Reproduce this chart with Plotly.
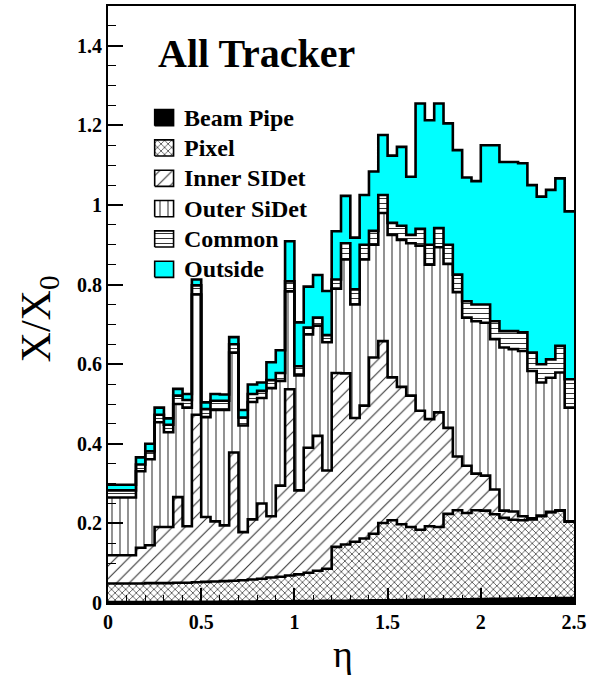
import plotly.graph_objects as go

# ---------------- data (cumulative X/X0 per eta bin) -------------
eta_edges = [0.0, 0.05, 0.1, 0.15, 0.2, 0.25, 0.3, 0.35, 0.4, 0.45,
             0.5, 0.55, 0.6, 0.65, 0.7, 0.75, 0.8, 0.85, 0.9, 0.95,
             1.0, 1.05, 1.1, 1.15, 1.2, 1.25, 1.3, 1.35, 1.4, 1.45,
             1.5, 1.55, 1.6, 1.65, 1.7, 1.75, 1.8, 1.85, 1.9, 1.95,
             2.0, 2.05, 2.1, 2.15, 2.2, 2.25, 2.3, 2.35, 2.4, 2.45, 2.5]

beam_pipe = [0.0025, 0.0025, 0.0025, 0.0026, 0.0026, 0.0027, 0.0028, 0.0029, 0.003, 0.003,
             0.0031, 0.0032, 0.0034, 0.0035, 0.0036, 0.0038, 0.004, 0.0041, 0.0043, 0.0045,
             0.0047, 0.0049, 0.0051, 0.0053, 0.0055, 0.0057, 0.006, 0.0062, 0.0065, 0.0068,
             0.007, 0.0073, 0.0076, 0.0079, 0.0082, 0.0085, 0.0088, 0.0091, 0.0094, 0.0097,
             0.01, 0.0103, 0.0106, 0.0109, 0.0112, 0.0115, 0.0118, 0.0121, 0.0124, 0.0127]

pixel = [0.049, 0.049, 0.049, 0.049, 0.05, 0.05, 0.05, 0.051, 0.051, 0.052,
         0.053, 0.054, 0.055, 0.056, 0.057, 0.059, 0.061, 0.064, 0.066, 0.069,
         0.072, 0.076, 0.081, 0.086, 0.141, 0.147, 0.154, 0.162, 0.174, 0.201,
         0.208, 0.198, 0.191, 0.184, 0.193, 0.191, 0.224, 0.233, 0.226, 0.233,
         0.232, 0.223, 0.214, 0.209, 0.208, 0.21, 0.218, 0.228, 0.232, 0.204]

inner_sidet = [0.12, 0.12, 0.12, 0.139, 0.145, 0.191, 0.191, 0.266, 0.193, 0.473,
               0.216, 0.205, 0.195, 0.378, 0.178, 0.21, 0.25, 0.218, 0.295, 0.537,
               0.283, 0.39, 0.42, 0.333, 0.578, 0.577, 0.465, 0.496, 0.617, 0.658,
               0.567, 0.543, 0.521, 0.483, 0.462, 0.479, 0.44, 0.368, 0.345, 0.325,
               0.32, 0.285, 0.232, 0.23, 0.218, 0.213, 0.22, 0.229, 0.233, 0.205]

outer_sidet = [0.265, 0.265, 0.265, 0.331, 0.361, 0.454, 0.429, 0.5, 0.491, 0.775,
               0.467, 0.485, 0.485, 0.629, 0.446, 0.505, 0.515, 0.54, 0.558, 0.783,
               0.572, 0.675, 0.697, 0.655, 0.79, 0.863, 0.75, 0.863, 0.9, 0.98,
               0.925, 0.912, 0.904, 0.898, 0.85, 0.894, 0.852, 0.781, 0.717, 0.708,
               0.704, 0.663, 0.642, 0.638, 0.633, 0.583, 0.554, 0.566, 0.579, 0.491]

common = [0.283, 0.283, 0.283, 0.348, 0.381, 0.473, 0.448, 0.521, 0.51, 0.798,
          0.487, 0.508, 0.508, 0.65, 0.466, 0.525, 0.533, 0.56, 0.578, 0.808,
          0.595, 0.692, 0.717, 0.673, 0.813, 0.904, 0.788, 0.9, 0.935, 1.025,
          0.955, 0.948, 0.925, 0.94, 0.9, 0.942, 0.9, 0.825, 0.758, 0.75,
          0.75, 0.708, 0.683, 0.683, 0.68, 0.629, 0.6, 0.612, 0.646, 0.562]

outside = [0.297, 0.297, 0.297, 0.366, 0.4, 0.491, 0.464, 0.538, 0.525, 0.813,
           0.504, 0.525, 0.524, 0.668, 0.485, 0.549, 0.554, 0.605, 0.635, 0.909,
           0.705, 0.795, 0.824, 0.784, 0.934, 1.023, 0.918, 1.025, 1.084, 1.176,
           1.124, 1.146, 1.071, 1.255, 1.213, 1.255, 1.205, 1.138, 1.069, 1.06,
           1.15, 1.15, 1.108, 1.108, 1.105, 1.05, 1.021, 1.038, 1.067, 0.984]

labels = ["Beam Pipe", "Pixel", "Inner SIDet", "Outer SiDet", "Common", "Outside"]

x_ticks = [0, 0.5, 1, 1.5, 2, 2.5]
y_ticks = [0, 0.2, 0.4, 0.6, 0.8, 1, 1.2, 1.4]

# ---------------- styles ----------------
SERIF = "Liberation Serif, Times New Roman, serif"
styles = [
    dict(fillcolor="black", fillpattern=None),
    dict(fillcolor="white", fillpattern=dict(shape="x", fgcolor="black", bgcolor="white",
                                             size=5, solidity=0.22, fillmode="replace")),
    dict(fillcolor="white", fillpattern=dict(shape="/", fgcolor="#333333", bgcolor="white",
                                             size=9, solidity=0.12, fillmode="replace")),
    dict(fillcolor="white", fillpattern=dict(shape="|", fgcolor="#555555", bgcolor="white",
                                             size=8, solidity=0.16, fillmode="replace")),
    dict(fillcolor="white", fillpattern=dict(shape="-", fgcolor="#333333", bgcolor="white",
                                             size=5, solidity=0.2, fillmode="replace")),
    dict(fillcolor="#00ffff", fillpattern=None),
]

layers = [beam_pipe, pixel, inner_sidet, outer_sidet, common, outside]

fig = go.Figure()

# baseline for tonexty fills
fig.add_trace(go.Scatter(x=eta_edges, y=[0.0] * len(eta_edges), mode="lines",
                         line=dict(width=0, color="black", shape="hv"),
                         showlegend=False, hoverinfo="skip"))

for vals, st, name in zip(layers, styles, labels):
    yv = list(vals) + [vals[-1]]
    kw = dict(x=eta_edges, y=yv, mode="lines", name=name,
              line=dict(color="black", width=2.6, shape="hv"),
              fill="tonexty", fillcolor=st["fillcolor"], showlegend=False)
    if st["fillpattern"] is not None:
        kw["fillpattern"] = st["fillpattern"]
    fig.add_trace(go.Scatter(**kw))

# ---------------- hand-made legend on an overlay axis (unit square) ----------------
leg_x0, leg_w = 0.1002, 0.0405
leg_top, leg_step, leg_h = 0.813, 0.0508, 0.0135
for i, (name, st) in enumerate(zip(labels, styles)):
    yc = leg_top - i * leg_step
    xs = [leg_x0, leg_x0 + leg_w, leg_x0 + leg_w, leg_x0, leg_x0]
    ys = [yc - leg_h, yc - leg_h, yc + leg_h, yc + leg_h, yc - leg_h]
    kw = dict(x=xs, y=ys, mode="lines", xaxis="x2", yaxis="y2",
              line=dict(color="black", width=1.6), fill="toself",
              fillcolor=st["fillcolor"], showlegend=False, hoverinfo="skip")
    if st["fillpattern"] is not None:
        kw["fillpattern"] = dict(st["fillpattern"])
    fig.add_trace(go.Scatter(**kw))
    fig.add_annotation(x=leg_x0 + leg_w + 0.018, y=yc, xref="paper", yref="paper",
                       text="<b>%s</b>" % name, showarrow=False, xanchor="left",
                       yanchor="middle", font=dict(family=SERIF, size=24, color="black"))

# title inside the frame
fig.add_annotation(x=0.318, y=0.92, xref="paper", yref="paper", text="<b>All Tracker</b>",
                   showarrow=False, xanchor="center", yanchor="middle",
                   font=dict(family=SERIF, size=40, color="black"))

# axis titles
fig.add_annotation(x=0.505, y=-0.085, xref="paper", yref="paper", text="η",
                   showarrow=False, xanchor="center", yanchor="middle",
                   font=dict(family=SERIF, size=38, color="black"))
fig.add_annotation(x=-0.149, y=0.476, xref="paper", yref="paper", text="X/X<sub>0</sub>",
                   showarrow=False, xanchor="center", yanchor="middle", textangle=-90,
                   font=dict(family=SERIF, size=42, color="black"))

axis_common = dict(showgrid=False, zeroline=False, showline=True, linecolor="black",
                   linewidth=2, mirror=True, ticks="inside", tickcolor="black",
                   tickwidth=1.5, ticklen=15,
                   tickfont=dict(family=SERIF, size=20, color="black", weight="bold"))

fig.update_layout(
    width=591, height=677,
    margin=dict(l=108, r=14, t=4, b=74),
    paper_bgcolor="white", plot_bgcolor="white",
    font=dict(family=SERIF, color="black"),
    showlegend=False,
    xaxis=dict(range=[0, 2.5], tickvals=x_ticks, ticktext=[("%g" % v) for v in x_ticks],
               minor=dict(ticks="inside", ticklen=8, dtick=0.1, tickcolor="black", tickwidth=1.2),
               **axis_common),
    yaxis=dict(range=[0, 1.5], tickvals=y_ticks, ticktext=[("%g" % v) for v in y_ticks],
               minor=dict(ticks="inside", ticklen=8, dtick=0.05, tickcolor="black", tickwidth=1.2),
               **axis_common),
    xaxis2=dict(range=[0, 1], overlaying="x", visible=False, fixedrange=True),
    yaxis2=dict(range=[0, 1], overlaying="y", visible=False, fixedrange=True),
)

fig.write_html("out.html")
